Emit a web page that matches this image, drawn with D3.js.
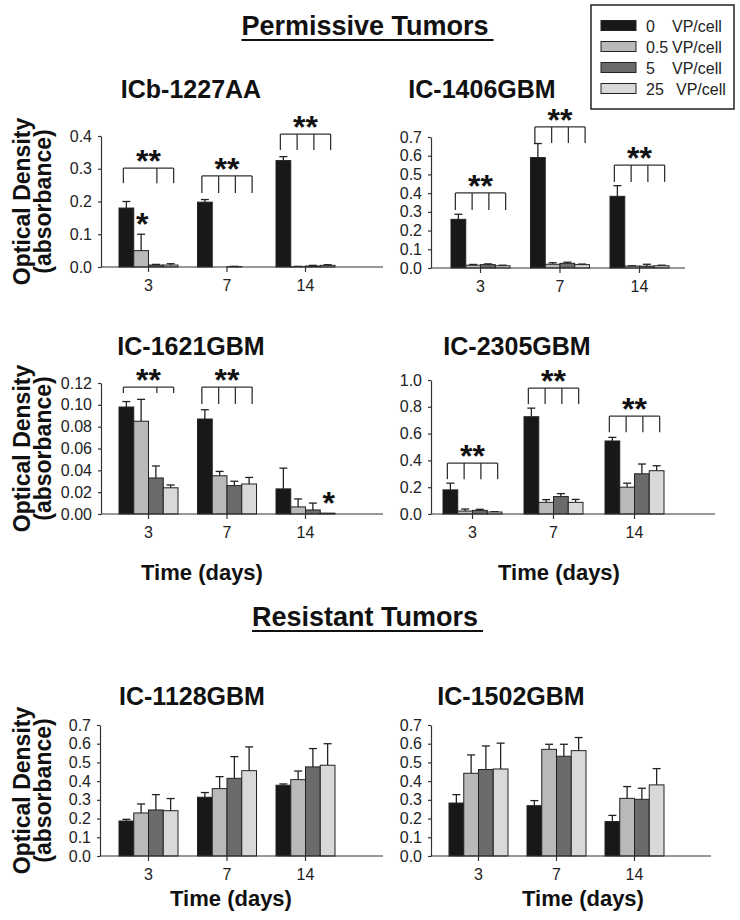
<!DOCTYPE html>
<html>
<head>
<meta charset="utf-8">
<script src="https://cdn.jsdelivr.net/npm/d3@7"></script>
<style>
  html, body { margin: 0; padding: 0; background: #fff; }
  svg { display: block; font-family: "Liberation Sans", Arial, sans-serif; }
</style>
</head>
<body>
<svg id="chart" width="740" height="920"></svg>
<script>
// ---------- DATA ----------
const days = ["3", "7", "14"];
const doses = ["0", "0.5", "5", "25"];
const doseUnit = "VP/cell";
const sectionTitles = ["Permissive Tumors", "Resistant Tumors"];
const panelTitles = ["ICb-1227AA", "IC-1406GBM", "IC-1621GBM", "IC-2305GBM", "IC-1128GBM", "IC-1502GBM"];
const yLabelLines = ["Optical Density", "(absorbance)"];
const xLabel = "Time (days)";

// means[day][dose]
const meansICb1227 = [[0.18, 0.05, 0.006, 0.006], [0.198, 0.0, 0.001, 0.0], [0.325, 0.001, 0.003, 0.005]];
const errsICb1227  = [[0.02, 0.05, 0.002, 0.004], [0.008, 0.0, 0.001, 0.0], [0.012, 0.001, 0.002, 0.002]];
const meansIC1406 = [[0.26, 0.015, 0.018, 0.012], [0.59, 0.02, 0.025, 0.018], [0.383, 0.01, 0.01, 0.012]];
const errsIC1406  = [[0.027, 0.004, 0.004, 0.003], [0.075, 0.008, 0.006, 0.003], [0.057, 0.002, 0.01, 0.003]];
const meansIC1621 = [[0.098, 0.085, 0.033, 0.024], [0.087, 0.035, 0.026, 0.0275], [0.023, 0.0065, 0.0037, 0.0008]];
const errsIC1621  = [[0.005, 0.020, 0.011, 0.0026], [0.0085, 0.004, 0.004, 0.006], [0.019, 0.0073, 0.0063, 0.0]];
const meansIC2305 = [[0.18, 0.022, 0.027, 0.015], [0.726, 0.087, 0.13, 0.087], [0.545, 0.2, 0.30, 0.323]];
const errsIC2305  = [[0.05, 0.015, 0.008, 0.002], [0.064, 0.02, 0.022, 0.022], [0.027, 0.03, 0.073, 0.037]];
const meansIC1128 = [[0.187, 0.23, 0.246, 0.242], [0.314, 0.36, 0.415, 0.456], [0.378, 0.408, 0.476, 0.485]];
const errsIC1128  = [[0.009, 0.048, 0.082, 0.065], [0.025, 0.064, 0.116, 0.127], [0.007, 0.046, 0.098, 0.115]];
const meansIC1502 = [[0.283, 0.442, 0.462, 0.465], [0.269, 0.570, 0.533, 0.563], [0.184, 0.308, 0.303, 0.38]];
const errsIC1502  = [[0.045, 0.098, 0.126, 0.138], [0.027, 0.027, 0.064, 0.07], [0.033, 0.063, 0.059, 0.087]];

// significance brackets: [day, top value, bottom value, which doses have a drop]
const bracketsICb1227 = [["3", 0.302, 0.256, [1, 0, 1, 1]], ["7", 0.278, 0.226, [1, 1, 1, 1]], ["14", 0.406, 0.357, [1, 1, 1, 1]]];
const bracketsIC1406  = [["3", 0.401, 0.31, [1, 1, 1, 1]], ["7", 0.754, 0.668, [1, 1, 1, 1]], ["14", 0.55, 0.46, [1, 1, 1, 1]]];
const bracketsIC1621  = [["3", 0.1163, 0.1108, [1, 0, 1, 1]], ["7", 0.1163, 0.1008, [1, 1, 1, 1]]];
const bracketsIC2305  = [["3", 0.38, 0.26, [1, 1, 1, 1]], ["7", 0.94, 0.82, [1, 1, 1, 1]], ["14", 0.73, 0.61, [1, 1, 1, 1]]];
// single stars: [day, dose]
const starsICb1227 = [["3", "0.5"]];
const starsIC1621  = [["14", "25"]];

const yMaxes = [0.4, 0.7, 0.12, 1.0, 0.7, 0.7];
const yTickSteps = [0.1, 0.1, 0.02, 0.2, 0.1, 0.1];
const yTickFormats = [".1f", ".1f", ".2f", ".1f", ".1f", ".1f"];

// ---------- STYLE / LAYOUT ----------
const doseColors = ["#181818", "#b9b9b9", "#6b6b6b", "#d9d9d9"];
const FONT = "'Liberation Sans', Arial, sans-serif";

const panels = [
  { title: panelTitles[0], means: meansICb1227, errs: errsICb1227, brackets: bracketsICb1227, stars: starsICb1227,
    axisX: 101, axisEnd: 383, yTop: 136, yBase: 267, gStart: 119, step: 78.5, titleX: 191, titleY: 98, yLab: true, xLab: null },
  { title: panelTitles[1], means: meansIC1406, errs: errsIC1406, brackets: bracketsIC1406, stars: [],
    axisX: 431, axisEnd: 685, yTop: 137, yBase: 268, gStart: 451, step: 79.5, titleX: 482, titleY: 98, yLab: false, xLab: null },
  { title: panelTitles[2], means: meansIC1621, errs: errsIC1621, brackets: bracketsIC1621, stars: starsIC1621,
    axisX: 101, axisEnd: 383, yTop: 383, yBase: 514, gStart: 119, step: 78.5, titleX: 191, titleY: 355, yLab: true, xLab: [202, 580] },
  { title: panelTitles[3], means: meansIC2305, errs: errsIC2305, brackets: bracketsIC2305, stars: [],
    axisX: 431, axisEnd: 715, yTop: 380, yBase: 514, gStart: 443, step: 81, titleX: 517, titleY: 355, yLab: false, xLab: [559, 580] },
  { title: panelTitles[4], means: meansIC1128, errs: errsIC1128, brackets: [], stars: [],
    axisX: 100, axisEnd: 383, yTop: 725, yBase: 856, gStart: 119, step: 78.5, titleX: 192, titleY: 705, yLab: true, xLab: [231, 906] },
  { title: panelTitles[5], means: meansIC1502, errs: errsIC1502, brackets: [], stars: [],
    axisX: 431, axisEnd: 711, yTop: 725, yBase: 856, gStart: 449, step: 78, titleX: 511, titleY: 705, yLab: false, xLab: [583, 906] }
];
const groupW = 59;

const svg = d3.select("#chart");

// Section headings with underline
function heading(text, cx, y) {
  const t = svg.append("text").attr("x", cx).attr("y", y).attr("text-anchor", "middle")
    .attr("font-family", FONT).attr("font-weight", "bold").attr("font-size", 27).attr("fill", "#111").text(text);
  const bb = t.node().getBBox();
  svg.append("line").attr("x1", bb.x).attr("x2", bb.x + bb.width + 5)
    .attr("y1", y + 5).attr("y2", y + 5).attr("stroke", "#111").attr("stroke-width", 2);
}
heading(sectionTitles[0], 365, 35);
heading(sectionTitles[1], 365, 626);

panels.forEach((p, pi) => {
  const g = svg.append("g");
  const y = d3.scaleLinear().domain([0, yMaxes[pi]]).range([p.yBase, p.yTop]);
  const x = d3.scaleBand().domain(days)
    .range([p.gStart, p.gStart + 2 * p.step + groupW])
    .paddingInner((p.step - groupW) / p.step).paddingOuter(0);
  const xs = d3.scaleBand().domain(doses).range([0, x.bandwidth()]);

  // title
  g.append("text").attr("x", p.titleX).attr("y", p.titleY).attr("text-anchor", "middle")
    .attr("font-family", FONT).attr("font-weight", "bold").attr("font-size", 25).attr("fill", "#111").text(p.title);

  const flat = [];
  days.forEach((d, di) => doses.forEach((s, si) => flat.push({ day: d, dose: s, si, v: p.means[di][si], e: p.errs[di][si] })));

  // error bars
  const eb = g.append("g").attr("stroke", "#222").attr("stroke-width", 1.3);
  flat.filter(d => d.e > 0).forEach(d => {
    const cx = x(d.day) + xs(d.dose) + xs.bandwidth() / 2;
    eb.append("line").attr("x1", cx).attr("x2", cx).attr("y1", y(d.v)).attr("y2", y(d.v + d.e));
    eb.append("line").attr("x1", cx - 4).attr("x2", cx + 4).attr("y1", y(d.v + d.e)).attr("y2", y(d.v + d.e));
  });

  // bars
  g.append("g").selectAll("rect").data(flat).join("rect")
    .attr("x", d => x(d.day) + xs(d.dose))
    .attr("y", d => y(d.v))
    .attr("width", xs.bandwidth())
    .attr("height", d => y(0) - y(d.v))
    .attr("fill", d => doseColors[d.si])
    .attr("stroke", "#222").attr("stroke-width", 1);

  // y axis
  const ticks = d3.range(0, yMaxes[pi] + 1e-9, yTickSteps[pi]);
  const ya = g.append("g").attr("transform", `translate(${p.axisX},0)`)
    .call(d3.axisLeft(y).tickValues(ticks).tickFormat(d3.format(yTickFormats[pi])).tickSize(3).tickSizeOuter(0).tickPadding(6));
  ya.selectAll("text").attr("font-family", FONT).attr("font-size", 16).attr("fill", "#222");
  ya.selectAll("line, path").attr("stroke", "#333").attr("stroke-width", 1.2);

  // x axis
  const xa = g.append("g").attr("transform", `translate(0,${p.yBase})`)
    .call(d3.axisBottom(x).tickSize(5).tickSizeOuter(0).tickPadding(8));
  xa.select(".domain").remove();
  xa.selectAll("text").attr("font-family", FONT).attr("font-size", 16).attr("fill", "#222");
  xa.selectAll("line").attr("stroke", "#333").attr("stroke-width", 1.2);
  g.append("line").attr("x1", p.axisX).attr("x2", p.axisEnd).attr("y1", p.yBase).attr("y2", p.yBase)
    .attr("stroke", "#333").attr("stroke-width", 1.2);

  // brackets
  p.brackets.forEach(([day, top, bot, drops]) => {
    const c0 = x(day) + xs(doses[0]) + xs.bandwidth() / 2 - 3;
    const c3 = x(day) + xs(doses[3]) + xs.bandwidth() / 2 + 3;
    const bx = d3.scaleLinear().domain([0, 3]).range([c0, c3]);
    const bg = g.append("g").attr("stroke", "#333").attr("stroke-width", 1.3).attr("fill", "none");
    bg.append("line").attr("x1", c0).attr("x2", c3).attr("y1", y(top)).attr("y2", y(top));
    drops.forEach((dr, k) => {
      if (dr) bg.append("line").attr("x1", bx(k)).attr("x2", bx(k)).attr("y1", y(top)).attr("y2", y(bot));
    });
    g.append("text").attr("x", (c0 + c3) / 2).attr("y", y(top) + 4).attr("text-anchor", "middle")
      .attr("font-family", FONT).attr("font-weight", "bold").attr("font-size", 32).attr("fill", "#111").text("**");
  });

  // single stars
  p.stars.forEach(([day, dose]) => {
    const di = days.indexOf(day), si = doses.indexOf(dose);
    const cx = x(day) + xs(dose) + xs.bandwidth() / 2;
    const top = p.means[di][si] + p.errs[di][si];
    g.append("text").attr("x", cx + 1).attr("y", y(top) + 1).attr("text-anchor", "middle")
      .attr("font-family", FONT).attr("font-weight", "bold").attr("font-size", 32).attr("fill", "#111").text("*");
  });

  // y label
  if (p.yLab) {
    const cy = (p.yTop + p.yBase) / 2;
    [30, 51].forEach((bx, li) => {
      g.append("text").attr("transform", `translate(${bx},${cy}) rotate(-90)`).attr("text-anchor", "middle")
        .attr("font-family", FONT).attr("font-weight", "bold").attr("font-size", 23).attr("fill", "#111")
        .text(yLabelLines[li]);
    });
  }
  // x label
  if (p.xLab) {
    g.append("text").attr("x", p.xLab[0]).attr("y", p.xLab[1]).attr("text-anchor", "middle")
      .attr("font-family", FONT).attr("font-weight", "bold").attr("font-size", 22).attr("fill", "#111").text(xLabel);
  }
});

// legend
const lg = svg.append("g");
lg.append("rect").attr("x", 591).attr("y", 5).attr("width", 143).attr("height", 104)
  .attr("fill", "#fff").attr("stroke", "#222").attr("stroke-width", 1.5);
const legY = d3.scaleBand().domain(doses).range([15, 99]);
doses.forEach((d, i) => {
  const cy = legY(d) + legY.bandwidth() / 2;
  lg.append("rect").attr("x", 601).attr("y", cy - 5).attr("width", 35).attr("height", 10)
    .attr("fill", doseColors[i]).attr("stroke", "#222").attr("stroke-width", 1);
  lg.append("text").attr("x", 646).attr("y", cy + 6).attr("font-family", FONT).attr("font-size", 16).attr("fill", "#222").text(d);
  lg.append("text").attr("x", i === 3 ? 676 : 672).attr("y", cy + 6).attr("font-family", FONT).attr("font-size", 16).attr("fill", "#222").text(doseUnit);
});
</script>
</body>
</html>
